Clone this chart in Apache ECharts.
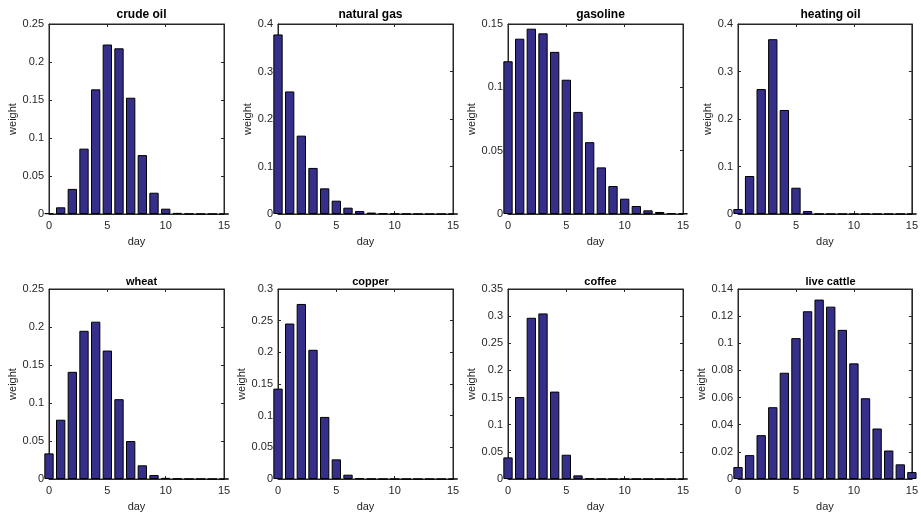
<!DOCTYPE html>
<html>
<head>
<meta charset="utf-8">
<script src="https://cdn.jsdelivr.net/npm/echarts@6/dist/echarts.min.js"></script>
<style>
  html, body { margin: 0; padding: 0; background: #ffffff; }
  #chart { width: 921px; height: 520px; }
</style>
</head>
<body>
<div id="chart"></div>
<script>
// days on the x axis
var days = [0, 1, 2, 3, 4, 5, 6, 7, 8, 9, 10, 11, 12, 13, 14, 15];

// weights per day
var crudeOil   = [0.001, 0.0088, 0.033, 0.086, 0.164, 0.223, 0.218, 0.153, 0.0775, 0.028, 0.007, 0.0015, 0.0003, 0.0001, 0, 0];
var naturalGas = [0.378, 0.258, 0.165, 0.097, 0.054, 0.028, 0.0133, 0.0063, 0.003, 0.0014, 0.0006, 0.0003, 0.0001, 0, 0, 0];
var gasoline   = [0.1206, 0.1384, 0.1463, 0.1426, 0.128, 0.106, 0.0806, 0.0567, 0.0368, 0.0221, 0.0121, 0.0063, 0.0029, 0.0016, 0.0008, 0.0003];
var heatingOil = [0.0105, 0.080, 0.263, 0.368, 0.219, 0.0553, 0.0063, 0.0003, 0, 0, 0, 0, 0, 0, 0, 0];
var wheat      = [0.0337, 0.078, 0.141, 0.195, 0.207, 0.169, 0.105, 0.050, 0.018, 0.0052, 0.0015, 0.0004, 0.0001, 0.0001, 0, 0];
var copper     = [0.1427, 0.2455, 0.2764, 0.204, 0.098, 0.031, 0.0068, 0.0012, 0.0002, 0, 0, 0, 0, 0, 0, 0];
var coffee     = [0.0398, 0.151, 0.297, 0.305, 0.161, 0.0447, 0.0067, 0.001, 0.0001, 0, 0, 0, 0, 0, 0, 0];
var liveCattle = [0.0088, 0.0176, 0.0323, 0.0529, 0.0783, 0.1038, 0.1236, 0.1322, 0.127, 0.1099, 0.0852, 0.0595, 0.0372, 0.0210, 0.0108, 0.0051];

var titles = ['crude oil', 'natural gas', 'gasoline', 'heating oil', 'wheat', 'copper', 'coffee', 'live cattle'];
var yMax   = [0.25, 0.4, 0.15, 0.4, 0.25, 0.3, 0.35, 0.14];
var yStep  = [0.05, 0.1, 0.05, 0.1, 0.05, 0.05, 0.05, 0.02];

var allSeries = [crudeOil, naturalGas, gasoline, heatingOil, wheat, copper, coffee, liveCattle];

var font = 'Liberation Sans, Arial, sans-serif';
var textColor = '#262626';
var lefts = [49, 278, 508, 738];
var tops = [24, 289];
var w = 175, h = 190;
var pxPerDay = w / 15;

var option = {
  animation: false,
  backgroundColor: '#ffffff',
  title: [], grid: [], xAxis: [], yAxis: [], series: []
};

allSeries.forEach(function (vals, i) {
  var col = i % 4, row = Math.floor(i / 4);
  var left = lefts[col], top = tops[row];

  option.title.push({
    text: titles[i],
    left: left + w / 2,
    top: top - (row === 0 ? 20 : 18),
    textAlign: 'center',
    textStyle: { fontFamily: font, fontSize: row === 0 ? 12 : 11, fontWeight: 'bold', color: '#000' }
  });

  option.grid.push({
    left: left, top: top, width: w, height: h,
    show: true, borderColor: textColor, borderWidth: 1, backgroundColor: 'transparent'
  });

  var tick = { show: true, inside: true, length: 3, lineStyle: { color: textColor, width: 1 } };
  var line = { show: true, onZero: false, lineStyle: { color: textColor, width: 1 } };

  // bottom and left axes carry labels, top and right ones only the box ticks
  option.xAxis.push({
    type: 'value', gridIndex: i, min: 0, max: 15, interval: 5, position: 'bottom',
    name: 'day', nameLocation: 'middle', nameGap: 22,
    nameTextStyle: { fontFamily: font, fontSize: 11, color: textColor },
    axisLine: line, axisTick: tick,
    axisLabel: { fontFamily: font, fontSize: 11, color: textColor, margin: 6 },
    splitLine: { show: false }
  });
  option.xAxis.push({
    type: 'value', gridIndex: i, min: 0, max: 15, interval: 5, position: 'top',
    axisLine: line, axisTick: tick, axisLabel: { show: false }, splitLine: { show: false }
  });

  option.yAxis.push({
    type: 'value', gridIndex: i, min: 0, max: yMax[i], interval: yStep[i], position: 'left',
    name: 'weight', nameLocation: 'middle', nameGap: 24,
    nameTextStyle: { fontFamily: font, fontSize: 11, color: textColor },
    axisLine: line, axisTick: tick,
    axisLabel: { fontFamily: font, fontSize: 11, color: textColor, margin: 5 },
    splitLine: { show: false }
  });
  option.yAxis.push({
    type: 'value', gridIndex: i, min: 0, max: yMax[i], interval: yStep[i], position: 'right',
    axisLine: line, axisTick: tick, axisLabel: { show: false }, splitLine: { show: false }
  });

  option.series.push({
    type: 'bar',
    xAxisIndex: 2 * i, yAxisIndex: 2 * i,
    data: days.map(function (d, k) { return [d, vals[k]]; }),
    barWidth: pxPerDay * 0.8,
    clip: true,
    itemStyle: { color: '#352f8a', borderColor: '#000000', borderWidth: 1 },
    emphasis: { disabled: true }
  });
});

var chart = echarts.init(document.getElementById('chart'));
chart.setOption(option);
</script>
</body>
</html>
